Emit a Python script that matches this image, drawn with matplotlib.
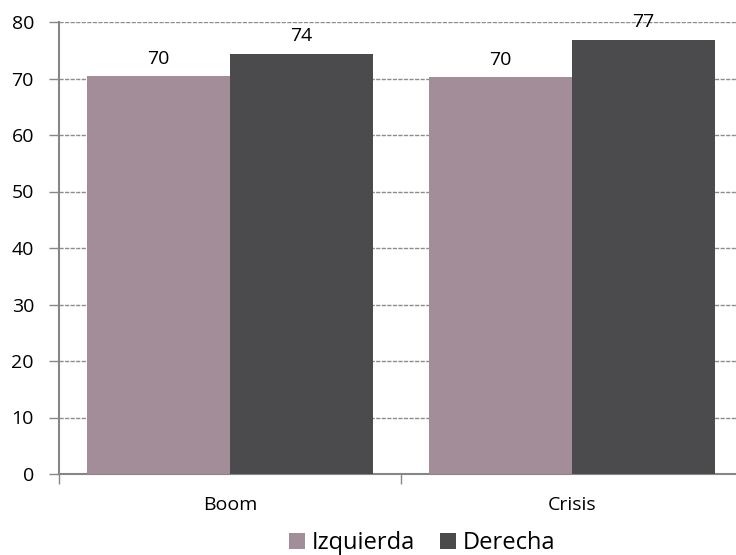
import numpy as np
import matplotlib.pyplot as plt

categories = ['Boom', 'Crisis']
series = ['Izquierda', 'Derecha']
izquierda = [70.4, 70.2]
derecha = [74.4, 76.9]
colors = ['#a38d99', '#4b4b4d']

plt.rcParams['font.family'] = ['Open Sans', 'DejaVu Sans']

fig = plt.figure(figsize=(7.36, 5.55), dpi=100)
ax = fig.add_axes([59 / 736, 1 - 474 / 555, 684 / 736, 452 / 555])

x = np.arange(len(categories))
w = 0.418
for i, (vals, name) in enumerate(zip([izquierda, derecha], series)):
    pos = x + (i - 0.5) * w
    bars = ax.bar(pos, vals, w, color=colors[i], label=name, zorder=3)
    for b, v in zip(bars, vals):
        ax.text(b.get_x() + b.get_width() / 2, v + 1.5, f'{v:.0f}',
                ha='center', va='bottom', fontsize=14, zorder=4)

ax.set_xlim(-0.5, 1.5)
ax.set_ylim(0, 80)
ax.set_yticks(range(0, 81, 10))
ax.yaxis.grid(True, linestyle=(0, (3, 1)), color='#8c8c8c', linewidth=1, zorder=0)
ax.set_xticks(x)
ax.set_xticklabels(categories)
ax.set_xticks([-0.5, 0.5, 1.5], minor=True)
ax.tick_params(axis='x', which='major', length=0, pad=16, labelsize=14)
ax.tick_params(axis='x', which='minor', length=7, color='#868686', width=1)
ax.tick_params(axis='y', length=7, color='#868686', width=1, labelsize=14, pad=11)

for s in ['top', 'right']:
    ax.spines[s].set_visible(False)
for s in ['left', 'bottom']:
    ax.spines[s].set_color('#868686')
    ax.spines[s].set_linewidth(1.5)

ax.legend(loc='center', bbox_to_anchor=(0.531, -0.153),
          ncol=2, frameon=False, fontsize=17, handlelength=0.68, handleheight=0.68,
          handletextpad=0.3, columnspacing=1.06, borderpad=0)

fig.savefig('out.png', dpi=100)
